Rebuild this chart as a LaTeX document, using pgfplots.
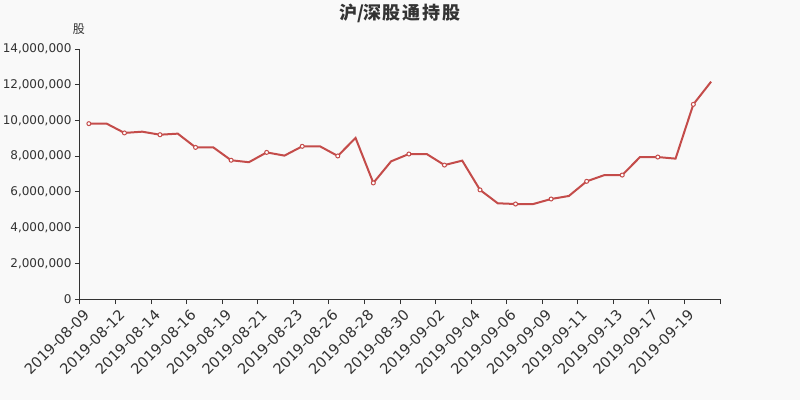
\documentclass[border=0pt]{standalone}
\usepackage{pgfplots}
\pgfplotsset{compat=1.18}
\usepackage{fontspec}
\setmainfont{DejaVu Sans}
\newfontfamily\cjk{Noto Sans CJK SC}
\definecolor{bg}{RGB}{249,249,249}
\definecolor{txt}{RGB}{51,51,51}
\definecolor{ln}{RGB}{196,76,74}
\begin{document}
\begin{tikzpicture}
\fill[bg] (-80pt,-101pt) rectangle (720pt,299pt);
\begin{axis}[at={(0pt,0pt)}, anchor=south west, scale only axis,
  width=640pt, height=250pt,
  xmin=-0.5, xmax=35.5, ymin=0, ymax=14000000,
  axis x line*=bottom, axis y line*=left,
  axis line style={draw=txt, line width=1pt, -},
  tick align=outside, major tick length=5pt, minor tick length=5pt,
  tick style={draw=txt, line width=1pt},
  ytick={0,2000000,4000000,6000000,8000000,10000000,12000000,14000000},
  scaled y ticks=false,
  /pgf/number format/assume math mode=true,
  yticklabel style={font=\fontsize{12}{14}\selectfont, text=txt,
    /pgf/number format/fixed, /pgf/number format/precision=0,
    /pgf/number format/1000 sep={,}},
  xtick={0,2,...,34},
  xticklabels={2019-08-09,2019-08-12,2019-08-14,2019-08-16,2019-08-19,2019-08-21,2019-08-23,2019-08-26,2019-08-28,2019-08-30,2019-09-02,2019-09-04,2019-09-06,2019-09-09,2019-09-11,2019-09-13,2019-09-17,2019-09-19},
  minor xtick={-0.5,1.5,...,35.5},
  major x tick style={draw=none},
  xticklabel shift=6pt,
  xticklabel style={font=\fontsize{14.5}{17}\selectfont, text=txt, rotate=45, anchor=east},
]
\addplot[color=ln, line width=2pt, mark=*, mark repeat=2, mark phase=1,
  mark size=2pt, mark options={fill=white, draw=ln, line width=1pt}]
coordinates {
(0,9820000) (1,9820000) (2,9300000) (3,9370000) (4,9200000) (5,9260000)
(6,8490000) (7,8490000) (8,7770000) (9,7660000) (10,8210000) (11,8030000)
(12,8550000) (13,8550000) (14,8010000) (15,9020000) (16,6500000) (17,7710000)
(18,8120000) (19,8120000) (20,7500000) (21,7750000) (22,6110000) (23,5360000)
(24,5320000) (25,5320000) (26,5600000) (27,5770000) (28,6590000) (29,6940000)
(30,6940000) (31,7950000) (32,7950000) (33,7860000) (34,10900000) (35,12170000)
};
\end{axis}
\node[font=\cjk\bfseries\fontsize{18}{20}\selectfont, text=txt] at (320pt,286pt) {沪/深\hspace{1pt}股\hspace{2pt}通\hspace{2pt}持\hspace{2pt}股};
\node[font=\cjk\fontsize{12}{14}\selectfont, text=txt] at (-1pt,270pt) {股};
\pgfresetboundingbox
\path (-80pt,-101pt) rectangle (720pt,299pt);
\end{tikzpicture}
\end{document}
